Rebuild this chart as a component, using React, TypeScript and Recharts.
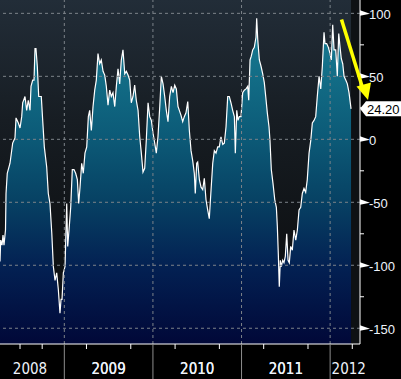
import React from 'react';
import { ComposedChart, Area, XAxis, YAxis, CartesianGrid, ReferenceLine, ReferenceArea } from 'recharts';

// dates as decimal years
const dates = [
  2008.274, 2008.282, 2008.297, 2008.308, 2008.319, 2008.336, 2008.342, 2008.356, 2008.387, 2008.417,
  2008.443, 2008.455, 2008.481, 2008.5, 2008.519, 2008.53, 2008.556, 2008.575, 2008.593, 2008.613,
  2008.624, 2008.643, 2008.658, 2008.669, 2008.68, 2008.695, 2008.711, 2008.726, 2008.74, 2008.756,
  2008.774, 2008.801, 2008.819, 2008.838, 2008.858, 2008.876, 2008.895, 2008.914, 2008.932, 2008.951,
  2008.963, 2008.974, 2008.989, 2009.008, 2009.027, 2009.038, 2009.053, 2009.072, 2009.09, 2009.109,
  2009.128, 2009.147, 2009.162, 2009.177, 2009.196, 2009.214, 2009.233, 2009.253, 2009.271, 2009.286,
  2009.305, 2009.324, 2009.343, 2009.361, 2009.38, 2009.399, 2009.417, 2009.437, 2009.456, 2009.474,
  2009.493, 2009.512, 2009.53, 2009.549, 2009.569, 2009.587, 2009.606, 2009.625, 2009.643, 2009.662,
  2009.682, 2009.7, 2009.719, 2009.738, 2009.756, 2009.775, 2009.794, 2009.812, 2009.832, 2009.851,
  2009.869, 2009.888, 2009.907, 2009.925, 2009.945, 2009.964, 2009.982, 2010.001, 2010.02, 2010.038,
  2010.057, 2010.077, 2010.095, 2010.114, 2010.133, 2010.151, 2010.17, 2010.189, 2010.208, 2010.227,
  2010.246, 2010.264, 2010.283, 2010.298, 2010.317, 2010.336, 2010.354, 2010.373, 2010.393, 2010.411,
  2010.43, 2010.449, 2010.467, 2010.478, 2010.494, 2010.505, 2010.524, 2010.543, 2010.562, 2010.58,
  2010.599, 2010.618, 2010.636, 2010.656, 2010.675, 2010.693, 2010.712, 2010.731, 2010.749, 2010.768,
  2010.788, 2010.806, 2010.825, 2010.844, 2010.862, 2010.881, 2010.9, 2010.919, 2010.93, 2010.946,
  2010.96, 2010.975, 2010.994, 2011.013, 2011.031, 2011.051, 2011.07, 2011.081, 2011.096, 2011.11,
  2011.126, 2011.144, 2011.163, 2011.171, 2011.183, 2011.201, 2011.22, 2011.239, 2011.257, 2011.273,
  2011.291, 2011.31, 2011.321, 2011.336, 2011.355, 2011.375, 2011.393, 2011.404, 2011.415, 2011.426,
  2011.438, 2011.449, 2011.465, 2011.479, 2011.494, 2011.51, 2011.525, 2011.539, 2011.555, 2011.573,
  2011.592, 2011.612, 2011.63, 2011.649, 2011.668, 2011.686, 2011.705, 2011.724, 2011.742, 2011.762,
  2011.781, 2011.799, 2011.818, 2011.837, 2011.855, 2011.875, 2011.894, 2011.912, 2011.931, 2011.942,
  2011.961, 2011.98, 2011.999, 2012.013, 2012.029, 2012.044, 2012.063, 2012.081, 2012.097, 2012.112,
  2012.126, 2012.142, 2012.157, 2012.176, 2012.194, 2012.213, 2012.236,
];

const values = [
  -97, -80, -84, -76, -84, -72, -43, -27, -19, -3,
  1, 17, 13, 9, 18, 29, 34, 23, 31, 23,
  42, 47, 47, 72, 72, 58, 34, 34, 34, 15,
  -6, -22, -43, -51, -74, -101, -112, -106, -119, -138,
  -127, -127, -106, -101, -51, -85, -72, -54, -24, -24,
  -27, -32, -51, -38, -19, -27, -11, -6, 18, 23,
  7, 26, 39, 47, 68, 60, 63, 54, 51, 42,
  27, 39, 34, 37, 26, 42, 56, 44, 63, 71,
  52, 54, 51, 47, 29, 34, 43, 31, 23, 2,
  -11, -26, -23, -1, 29, 18, 15, 5, -3, -11,
  2, 26, 50, 44, 34, 23, 14, 34, 42, 37,
  43, 40, 26, 23, 19, 14, 18, 21, 30, 7,
  -9, -17, -27, -43, -19, -18, -32, -38, -40, -31,
  -48, -56, -63, -40, -19, -9, -11, -6, -6, 2,
  -4, -3, 10, 34, 34, 29, 23, 18, -11, 23,
  15, 18, 18, 37, 39, 40, 42, 31, 63, 66,
  71, 73, 81, 96, 79, 63, 58, 52, 45, 34,
  21, 10, -1, -24, -35, -48, -54, -69, -91, -117,
  -96, -101, -96, -98, -93, -75, -96, -98, -85, -88,
  -72, -80, -72, -56, -54, -43, -39, -42, -32, -11,
  -1, 13, 15, 18, 34, 50, 40, 58, 85, 76,
  76, 73, 68, 63, 91, 71, 71, 50, 84, 73,
  64, 60, 50, 47, 44, 37, 24.2,
];

const lastValue = 24.2;

const quarterTicks = [
  2008.5, 2008.75, 2009, 2009.25, 2009.5, 2009.75, 2010, 2010.25, 2010.5, 2010.75,
  2011, 2011.25, 2011.5, 2011.75, 2012, 2012.25,
];
const yearStarts = [2009, 2010, 2011, 2012];
const yearLabels = ['2008', '2009', '2010', '2011', '2012'];
const yearLabelAt = [2008.613, 2009.5, 2010.5, 2011.5, 2012.21];

const majorY = [100, 50, 0, -50, -100, -150];
const minorY = [75, 25, -25, -75, -125];

const data = dates.map((t, i) => ({ t, v: values[i] }));

const X_DOMAIN: [number, number] = [2008.274, 2012.337];
const Y_DOMAIN: [number, number] = [-162.5, 110.6];
const AXIS_Y = 344;
const AXIS_X = 360;

const XTick = (props: any) => {
  const { x, payload } = props;
  const v = payload.value;
  const li = yearLabelAt.findIndex((p) => Math.abs(p - v) < 1e-6);
  if (li >= 0) {
    return (
      <text
        x={x}
        y={374}
        textAnchor="middle"
        fill="#eef3fb"
        fontSize={15}
        fontFamily="'Liberation Sans Narrow', 'DejaVu Sans Condensed', sans-serif"
      >
        {yearLabels[li]}
      </text>
    );
  }
  const isYear = yearStarts.some((p) => Math.abs(p - v) < 1e-6);
  if (isYear) {
    return <line x1={x} x2={x} y1={AXIS_Y} y2={379} stroke="#8d8d8d" strokeWidth={1} />;
  }
  return <line x1={x} x2={x} y1={AXIS_Y} y2={AXIS_Y + 5} stroke="#ffffff" strokeWidth={1} />;
};

const YTick = (props: any) => {
  const { y, payload } = props;
  const v = payload.value;
  if (v === lastValue) {
    return (
      <g>
        <polygon
          points={`${AXIS_X},${y} ${AXIS_X + 6},${y - 7.5} 401,${y - 7.5} 401,${y + 7.5} ${AXIS_X + 6},${y + 7.5}`}
          fill="#ffffff"
        />
        <text x={367} y={y + 4.7} fill="#000" fontSize={13} fontFamily="'Liberation Sans', Arial, sans-serif">
          {v.toFixed(2)}
        </text>
      </g>
    );
  }
  if (majorY.includes(v)) {
    return (
      <g>
        <polygon points={`${AXIS_X},${y - 3} ${AXIS_X + 10},${y + 0.5} ${AXIS_X},${y + 2.5}`} fill="#ffffff" />
        <text x={369} y={y + 5.5} fill="#eef3fb" fontSize={13} fontFamily="'Liberation Sans', Arial, sans-serif">
          {v}
        </text>
      </g>
    );
  }
  return <line x1={AXIS_X} x2={AXIS_X + 4} y1={y} y2={y} stroke="#ffffff" strokeWidth={1} />;
};

export default function App() {
  return (
    <div style={{ position: 'fixed', left: 0, top: 0, width: 401, height: 379, background: '#000' }}>
      <ComposedChart width={401} height={379} data={data} margin={{ top: 0, right: 0, bottom: 0, left: 0 }}>
        <defs>
          <linearGradient id="bgGrad" x1="0" y1="0" x2="0" y2="1">
            <stop offset="0" stopColor="#222d38" />
            <stop offset="0.35" stopColor="#171d23" />
            <stop offset="0.7" stopColor="#0f1215" />
            <stop offset="1" stopColor="#0b0d0f" />
          </linearGradient>
          <linearGradient id="areaGrad" gradientUnits="userSpaceOnUse" x1="0" y1="0" x2="0" y2={AXIS_Y}>
            <stop offset="0" stopColor="#1a8299" />
            <stop offset="0.2" stopColor="#136f88" />
            <stop offset="0.4" stopColor="#0c5a77" />
            <stop offset="0.58" stopColor="#074264" />
            <stop offset="0.78" stopColor="#032052" />
            <stop offset="1" stopColor="#010838" />
          </linearGradient>
        </defs>
        <CartesianGrid horizontal={false} vertical={false} fill="url(#bgGrad)" />
        <XAxis
          dataKey="t"
          type="number"
          domain={X_DOMAIN}
          allowDataOverflow
          ticks={[...quarterTicks, ...yearLabelAt]}
          interval={0}
          height={35}
          axisLine={{ stroke: '#ffffff', strokeWidth: 1 }}
          tickLine={false}
          tick={<XTick />}
        />
        <YAxis
          orientation="right"
          type="number"
          domain={Y_DOMAIN}
          allowDataOverflow
          ticks={[...majorY, ...minorY, lastValue]}
          interval={0}
          width={41}
          axisLine={{ stroke: '#ffffff', strokeWidth: 1 }}
          tickLine={false}
          tick={<YTick />}
        />
        {majorY.map((v) => (
          <ReferenceLine key={`h${v}`} y={v} stroke="#7c8389" strokeDasharray="3 3" strokeWidth={1} />
        ))}
        {yearStarts.map((v) => (
          <ReferenceLine key={`v${v}`} x={v} stroke="#7c8389" strokeDasharray="3 3" strokeWidth={1} />
        ))}
        <ReferenceArea x1={dates[dates.length - 1]} x2={X_DOMAIN[1]} fill="#0e1114" fillOpacity={1} stroke="none" />
        <Area
          type="linear"
          dataKey="v"
          baseValue="dataMin"
          stroke="#ffffff"
          strokeWidth={1.2}
          fill="url(#areaGrad)"
          fillOpacity={1}
          dot={false}
          activeDot={false}
          isAnimationActive={false}
        />
      </ComposedChart>
      <svg width={401} height={379} style={{ position: 'absolute', left: 0, top: 0, pointerEvents: 'none' }}>
        <line x1={341.5} y1={19.5} x2={362} y2={86} stroke="#ffff00" strokeWidth={3.5} />
        <polygon points="356.5,86.5 371,82.5 368,100" fill="#ffff00" />
      </svg>
    </div>
  );
}
